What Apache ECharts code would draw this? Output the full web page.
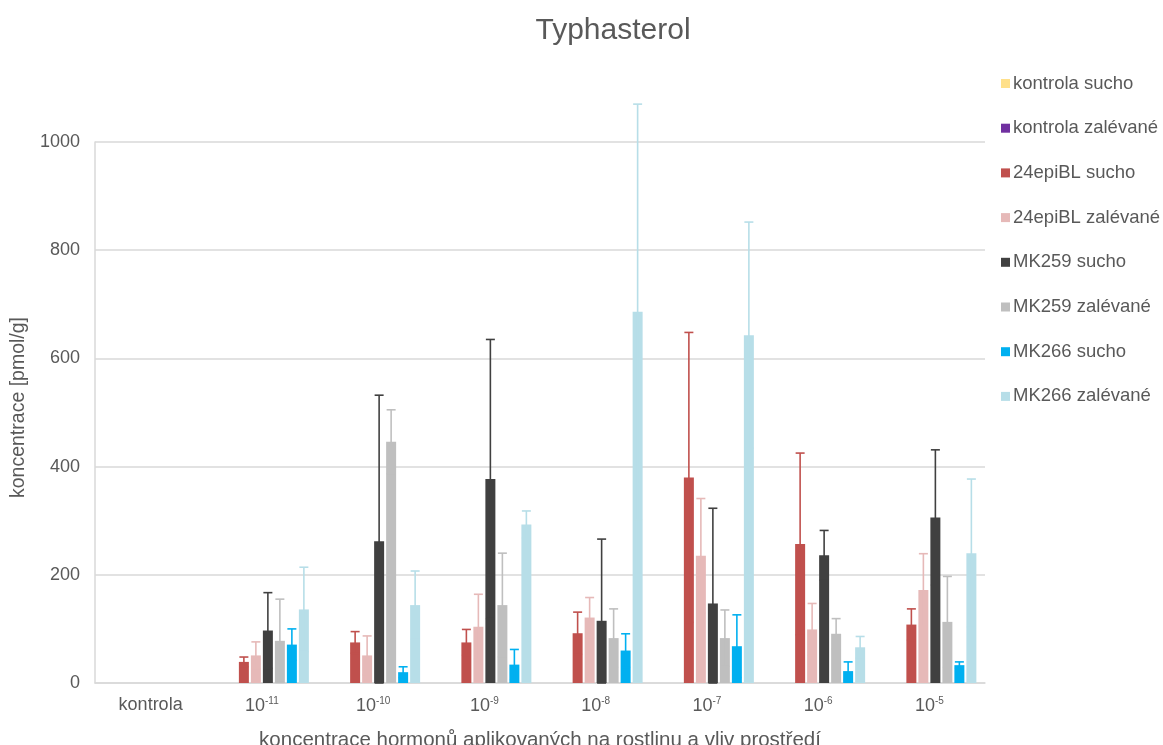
<!DOCTYPE html>
<html>
<head>
<meta charset="utf-8">
<script src="https://cdn.jsdelivr.net/npm/echarts@6/dist/echarts.min.js"></script>
<style>
  html, body { margin: 0; padding: 0; background: #fff; }
  #chart { width: 1163px; height: 745px; }
</style>
</head>
<body>
<div id="chart"></div>
<script>
// kategorie na ose x
var categories = ['kontrola', '10^-11', '10^-10', '10^-9', '10^-8', '10^-7', '10^-6', '10^-5'];
var seriesNames = ['kontrola sucho', 'kontrola zalévané', '24epiBL sucho', '24epiBL zalévané',
    'MK259 sucho', 'MK259 zalévané', 'MK266 sucho', 'MK266 zalévané'];

// hodnoty (pmol/g), kontrola bez dat
var kontrolaSucho     = [null, null, null, null, null, null, null, null];
var kontrolaZalevane  = [null, null, null, null, null, null, null, null];
var epiBLSucho        = [null, 39, 75, 75, 92, 380, 257, 108];
var epiBLZalevane     = [null, 51, 51, 104, 121, 235, 99, 172];
var mk259Sucho        = [null, 97, 262, 377, 115, 147, 236, 306];
var mk259Zalevane     = [null, 78, 446, 144, 83, 83, 91, 113];
var mk266Sucho        = [null, 71, 20, 34, 60, 68, 22, 33];
var mk266Zalevane     = [null, 136, 144, 293, 686, 643, 66, 240];

// směrodatné odchylky
var epiBLSuchoErr     = [null, 9, 20, 24, 39, 268, 168, 29];
var epiBLZalevaneErr  = [null, 25, 36, 60, 37, 106, 48, 67];
var mk259SuchoErr     = [null, 70, 270, 258, 151, 176, 46, 125];
var mk259ZalevaneErr  = [null, 77, 59, 96, 54, 52, 28, 84];
var mk266SuchoErr     = [null, 29, 10, 28, 31, 58, 17, 6];
var mk266ZalevaneErr  = [null, 78, 63, 25, 384, 209, 20, 137];

var colors = ['#FFE08A', '#7030A0', '#C0504D', '#E6B9B8', '#404040', '#BFBFBF', '#00B0F0', '#B7DEE8'];
var values = [kontrolaSucho, kontrolaZalevane, epiBLSucho, epiBLZalevane, mk259Sucho, mk259Zalevane, mk266Sucho, mk266Zalevane];
var errors = [null, null, epiBLSuchoErr, epiBLZalevaneErr, mk259SuchoErr, mk259ZalevaneErr, mk266SuchoErr, mk266ZalevaneErr];

var BAR_W = 10, BAR_GAP = 2;
var txt = '#595959';
var font = 'Liberation Sans, Arial, sans-serif';

var myChart = echarts.init(document.getElementById('chart'));

var series = [];
seriesNames.forEach(function (name, i) {
    series.push({
        name: name,
        type: 'bar',
        barWidth: BAR_W,
        barGap: (BAR_GAP / BAR_W * 100) + '%',
        itemStyle: { color: colors[i] },
        data: values[i]
    });
});
// chybove usecky
seriesNames.forEach(function (name, i) {
    if (!errors[i]) return;
    var data = [];
    for (var k = 0; k < categories.length; k++) {
        if (values[i][k] != null) data.push([k, values[i][k], errors[i][k]]);
    }
    var offset = (i - 3.5) * (BAR_W + BAR_GAP);
    series.push({
        name: name,
        type: 'custom',
        clip: false,
        z: 5,
        data: data,
        renderItem: function (params, api) {
            var c = api.value(0), v = api.value(1), e = api.value(2);
            var top = api.coord([c, v + e]);
            var bot = api.coord([c, Math.max(0, v - e)]);
            var x = top[0] + offset;
            var st = { stroke: colors[i], lineWidth: 1.6 };
            return {
                type: 'group',
                children: [
                    { type: 'line', shape: { x1: x, y1: top[1], x2: x, y2: bot[1] }, style: st },
                    { type: 'line', shape: { x1: x - 4.5, y1: top[1], x2: x + 4.5, y2: top[1] }, style: st },
                    { type: 'line', shape: { x1: x - 4.5, y1: bot[1], x2: x + 4.5, y2: bot[1] }, style: st }
                ]
            };
        }
    });
});

var option = {
    animation: false,
    textStyle: { fontFamily: font },
    title: {
        text: 'Typhasterol',
        left: 608,
        textAlign: 'center',
        top: 11,
        textStyle: { fontFamily: font, fontSize: 30, fontWeight: 'normal', color: txt }
    },
    legend: {
        data: seriesNames,
        orient: 'vertical',
        left: 996,
        top: 69,
        itemWidth: 9,
        itemHeight: 9,
        itemGap: 25.7,
        icon: 'rect',
        textStyle: { fontFamily: font, fontSize: 18.5, color: txt, lineHeight: 18, padding: [0, 0, 0, -2] }
    },
    grid: { left: 95, right: 178, top: 142, bottom: 62, outerBoundsMode: 'none' },
    xAxis: {
        type: 'category',
        data: categories,
        name: 'koncentrace hormonů aplikovaných na rostlinu a vliv prostředí',
        nameLocation: 'middle',
        nameGap: 47,
        nameTextStyle: { fontFamily: font, fontSize: 20.5, color: txt },
        axisLine: { lineStyle: { color: '#D9D9D9', width: 1.5 } },
        axisTick: { show: false },
        axisLabel: {
            color: txt,
            fontSize: 18,
            margin: 13,
            formatter: function (v) {
                return v.indexOf('10^') === 0 ? '10{s|' + v.slice(3) + '}' : v;
            },
            rich: { s: { fontSize: 10, color: txt, padding: [0, 0, 10, 0] } }
        }
    },
    yAxis: {
        type: 'value',
        min: 0,
        max: 1000,
        interval: 200,
        name: 'koncentrace [pmol/g]',
        nameLocation: 'middle',
        nameGap: 65,
        nameTextStyle: { fontFamily: font, fontSize: 19.5, color: txt, padding: [0, 0, 0, 10] },
        axisLine: { show: true, lineStyle: { color: '#D9D9D9', width: 1.5 } },
        axisLabel: { color: txt, fontSize: 18, margin: 15, formatter: function (v) { return String(v); } },
        splitLine: { lineStyle: { color: '#D9D9D9', width: 1.5 } }
    },
    series: series
};

myChart.setOption(option);
</script>
</body>
</html>
